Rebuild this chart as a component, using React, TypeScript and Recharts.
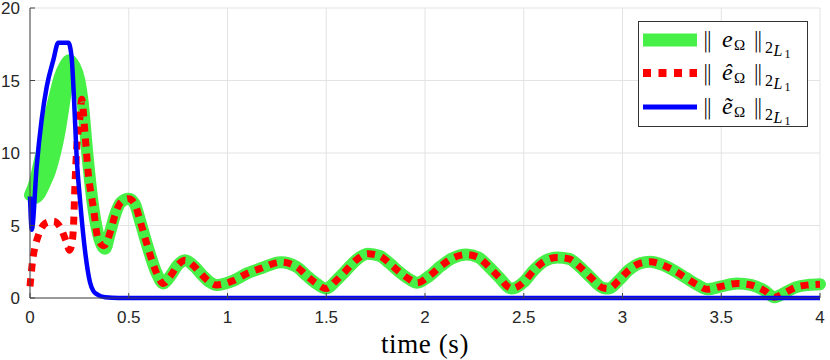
import React from "react";
import { ComposedChart, Line, Area, XAxis, YAxis, CartesianGrid } from "recharts";

// tick labels
const xTicks = [0, 0.5, 1, 1.5, 2, 2.5, 3, 3.5, 4];
const yTicks = [0, 5, 10, 15, 20];

// ||e_Omega|| : early thick band (lower / upper), then single curve
const bandT = [0, 0.025, 0.05, 0.075, 0.1, 0.125, 0.15, 0.175, 0.2];
const bandLow = [7.0, 6.9, 7.2, 7.9, 8.7, 9.9, 11.5, 13.7, 16.0];
const bandHigh = [7.1, 8.0, 9.5, 11.0, 12.5, 13.9, 15.2, 16.0, 16.4];

const eHeadT = [0, 0.025, 0.05, 0.075, 0.1, 0.125, 0.15, 0.175, 0.2, 0.225, 0.25, 0.265, 0.29, 0.315, 0.345, 0.38];
const eHeadV = [7.1, 8.0, 9.5, 11.0, 12.5, 13.9, 15.2, 16.0, 16.4, 16.0, 15.0, 13.7, 10.0, 6.8, 4.4, 3.4];

// ||e_hat_Omega|| early part
const rHeadT = [0, 0.01, 0.042, 0.085, 0.12, 0.152, 0.186, 0.2, 0.21, 0.22, 0.228, 0.236, 0.253, 0.262, 0.278, 0.295, 0.32, 0.346, 0.375];
const rHeadV = [0.8, 2.2, 4.3, 5.2, 5.3, 4.9, 3.8, 3.3, 3.6, 4.9, 7.9, 10.2, 12.5, 13.7, 11.4, 8.6, 6.3, 4.0, 3.6];

// shared oscillating tail of e and e_hat
const tailT = [0.405, 0.43, 0.46, 0.5, 0.53, 0.56, 0.59, 0.64, 0.675, 0.71, 0.75, 0.785, 0.83, 0.87, 0.91, 0.945, 1.03, 1.1, 1.17, 1.27, 1.35, 1.4, 1.45, 1.5, 1.55, 1.6, 1.65, 1.71, 1.77, 1.82, 1.87, 1.92, 1.96, 2.02, 2.08, 2.14, 2.21, 2.27, 2.32, 2.37, 2.44, 2.5, 2.55, 2.6, 2.67, 2.73, 2.78, 2.84, 2.9, 2.93, 2.98, 3.03, 3.09, 3.14, 3.2, 3.26, 3.32, 3.38, 3.43, 3.5, 3.58, 3.65, 3.72, 3.77, 3.82, 3.88, 3.94, 4.0];
const tailV = [4.5, 5.7, 6.6, 6.85, 6.5, 5.2, 3.8, 1.75, 1.0, 1.5, 2.3, 2.6, 2.2, 1.6, 1.1, 0.9, 1.2, 1.7, 2.05, 2.47, 2.15, 1.55, 1.0, 0.65, 1.2, 1.9, 2.6, 3.05, 2.9, 2.4, 1.8, 1.3, 1.05, 1.5, 2.2, 2.75, 3.0, 2.8, 2.2, 1.5, 0.65, 1.1, 1.9, 2.5, 2.8, 2.7, 2.2, 1.4, 0.7, 0.65, 1.2, 1.9, 2.4, 2.5, 2.3, 1.9, 1.4, 0.9, 0.6, 0.8, 1.0, 0.9, 0.5, 0.05, 0.35, 0.75, 0.9, 0.95];

// ||e_tilde_Omega||
const bT = [0, 0.009, 0.034, 0.059, 0.085, 0.118, 0.143, 0.194, 0.21, 0.223, 0.236, 0.253, 0.28, 0.304, 0.32, 0.34, 0.38, 0.45, 4.0];
const bV = [7.0, 4.7, 9.1, 12.3, 14.6, 16.4, 17.6, 17.6, 16.7, 13.7, 9.8, 6.8, 3.1, 1.07, 0.5, 0.25, 0.05, 0, 0];

const zip = (t: number[], v: number[]) => t.map((x, i) => ({ t: x, v: v[i] }));
const bandData = bandT.map((x, i) => ({ t: x, range: [bandLow[i], bandHigh[i]], lo: bandLow[i] }));
const eData = [...zip(eHeadT, eHeadV), ...zip(tailT, tailV)];
const rData = [...zip(rHeadT, rHeadV), ...zip(tailT, tailV)];
const bData = zip(bT, bV);

const GREEN = "#47f047";
const RED = "#ff0000";
const BLUE = "#0000ff";
const W = 830;
const H = 360;

const tickStyle = { fill: "#262626", fontSize: 17, fontFamily: "'Liberation Sans', Arial, sans-serif" };
const SERIF = "'Liberation Serif', 'DejaVu Serif', serif";

function LegendRow({ cy, accent }: { cy: number; accent: string }) {
  return (
    <g fontFamily={SERIF} fill="#000">
      <text x={64} y={cy + 6.5} fontSize={22} fontFamily="'DejaVu Sans', sans-serif" fontWeight={300}>‖</text>
      <text x={84} y={cy + 6.7} fontSize={24} fontStyle="italic">{accent}</text>
      <text x={96} y={cy + 9.5} fontSize={15}>Ω</text>
      <text x={114.5} y={cy + 6.5} fontSize={22} fontFamily="'DejaVu Sans', sans-serif" fontWeight={300}>‖</text>
      <text x={127} y={cy + 12.5} fontSize={16}>2</text>
      <text x={135.5} y={cy + 15.5} fontSize={16} fontStyle="italic">L</text>
      <text x={146.5} y={cy + 18} fontSize={12}>1</text>
    </g>
  );
}

export default function App() {
  return (
    <div style={{ position: "absolute", left: 0, top: 0, width: W, height: H, background: "#fff" }}>
      <ComposedChart width={W} height={H} margin={{ top: 8, right: 10, bottom: 0, left: 0 }}>
        <CartesianGrid stroke="#e3e3e3" strokeWidth={1} />
        <XAxis
          type="number"
          dataKey="t"
          domain={[0, 4]}
          ticks={xTicks}
          interval={0}
          height={62}
          stroke="#444"
          tickSize={-5}
          tickMargin={18}
          tick={tickStyle}
          label={{
            value: "time (s)",
            position: "insideBottom",
            offset: 7,
            style: { fontFamily: SERIF, fontSize: 27, fill: "#000", letterSpacing: 0.6 },
          }}
        />
        <YAxis
          type="number"
          domain={[0, 20]}
          ticks={yTicks}
          interval={0}
          width={30}
          stroke="#444"
          tickSize={-5}
          tickMargin={15}
          tick={tickStyle}
        />
        <Area
          data={bandData}
          dataKey="range"
          type="monotone"
          fill={GREEN}
          fillOpacity={1}
          stroke="none"
          isAnimationActive={false}
          dot={false}
          activeDot={false}
        />
        <Line
          data={bandData}
          dataKey="lo"
          type="monotone"
          stroke={GREEN}
          strokeWidth={12}
          dot={false}
          activeDot={false}
          isAnimationActive={false}
        />
        <Line
          data={eData}
          dataKey="v"
          type="monotone"
          stroke={GREEN}
          strokeWidth={12}
          strokeLinejoin="round"
          strokeLinecap="round"
          dot={false}
          activeDot={false}
          isAnimationActive={false}
        />
        <Line
          data={rData}
          dataKey="v"
          type="monotone"
          stroke={RED}
          strokeWidth={7}
          strokeDasharray="8 7"
          dot={false}
          activeDot={false}
          isAnimationActive={false}
        />
        <Line
          data={bData}
          dataKey="v"
          type="monotone"
          stroke={BLUE}
          strokeWidth={4.5}
          strokeLinejoin="round"
          dot={false}
          activeDot={false}
          isAnimationActive={false}
        />
      </ComposedChart>
      <svg style={{ position: "absolute", left: 638, top: 21 }} width={170} height={106}>
        <rect x={0.5} y={0.5} width={169} height={105} fill="#fff" stroke="#333" strokeWidth={1} />
        <line x1={5} x2={59} y1={19} y2={19} stroke={GREEN} strokeWidth={13} />
        <line x1={5} x2={59} y1={52} y2={52} stroke={RED} strokeWidth={8} strokeDasharray="8 7.5" />
        <line x1={5} x2={59} y1={86} y2={86} stroke={BLUE} strokeWidth={5} />
        <LegendRow cy={19} accent="e" />
        <LegendRow cy={52} accent="ê" />
        <LegendRow cy={86} accent="ẽ" />
      </svg>
    </div>
  );
}
